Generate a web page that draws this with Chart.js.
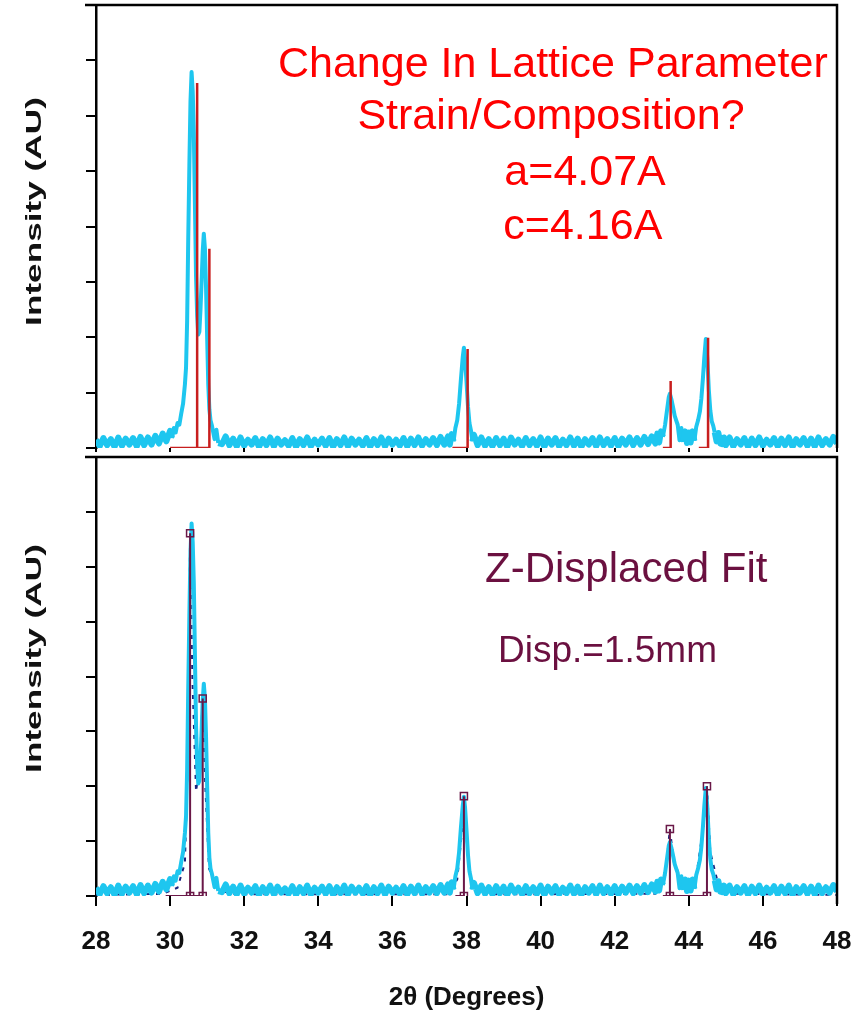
<!DOCTYPE html>
<html>
<head>
<meta charset="utf-8">
<title>2θ scan</title>
<script src="https://cdn.jsdelivr.net/npm/chart.js@4.4.1/dist/chart.umd.min.js"></script>
<style>
  html, body { margin: 0; padding: 0; background: #fff; }
  #wrap { position: relative; width: 866px; height: 1015px; overflow: hidden; }
  #wrap canvas { position: absolute; left: 0; }
  #upper { top: 0; }
  #lower { top: 450px; }
</style>
</head>
<body>
<div id="wrap">
  <canvas id="upper" width="866" height="460"></canvas>
  <canvas id="lower" width="866" height="565"></canvas>
</div>
<script>
// measured scan, intensity in arbitrary units (one y tick = 1)
const twoTheta = [
  28.0, 28.1, 28.2, 28.3, 28.4, 28.5, 28.6, 28.7, 28.8, 28.9, 29.0, 29.1, 29.2, 29.3, 29.4,
  29.5, 29.6, 29.7, 29.8, 29.9, 30.0, 30.05, 30.1, 30.15, 30.2, 30.25, 30.3, 30.35, 30.4, 30.43,
  30.46, 30.49, 30.52, 30.55, 30.58, 30.61, 30.64, 30.67, 30.7, 30.73, 30.76, 30.79, 30.82, 30.85,
  30.88, 30.91, 30.94, 30.97, 31.0, 31.03, 31.06, 31.09, 31.13, 31.2, 31.25, 31.3, 31.4, 31.5,
  31.6, 31.7, 31.8, 31.9, 32.0, 32.1, 32.2, 32.3, 32.4, 32.5, 32.6, 32.7, 32.8, 32.9, 33.0, 33.1,
  33.2, 33.3, 33.4, 33.5, 33.6, 33.7, 33.8, 33.9, 34.0, 34.1, 34.2, 34.3, 34.4, 34.5, 34.6, 34.7,
  34.8, 34.9, 35.0, 35.1, 35.2, 35.3, 35.4, 35.5, 35.6, 35.7, 35.8, 35.9, 36.0, 36.1, 36.2, 36.3,
  36.4, 36.5, 36.6, 36.7, 36.8, 36.9, 37.0, 37.1, 37.2, 37.3, 37.4, 37.5,
  37.55, 37.6, 37.65, 37.7, 37.75, 37.8, 37.85, 37.9, 37.93, 37.96, 38.0, 38.04, 38.08, 38.12, 38.16, 38.2, 38.3,
  38.4, 38.5, 38.6, 38.7, 38.8, 38.9, 39.0, 39.1, 39.2, 39.3, 39.4, 39.5, 39.6, 39.7, 39.8, 39.9,
  40.0, 40.1, 40.2, 40.3, 40.4, 40.5, 40.6, 40.7, 40.8, 40.9, 41.0, 41.1, 41.2, 41.3, 41.4, 41.5,
  41.6, 41.7, 41.8, 41.9, 42.0, 42.1, 42.2, 42.3, 42.4, 42.5, 42.6, 42.7, 42.8, 42.9, 43.0, 43.1,
  43.15, 43.2, 43.25, 43.3, 43.36, 43.42, 43.46, 43.49, 43.53, 43.58, 43.62, 43.66, 43.7, 43.75,
  43.8, 43.85, 43.9, 43.95, 44.0, 44.05, 44.1, 44.15, 44.2, 44.25, 44.3, 44.34, 44.38, 44.42, 44.46,
  44.5, 44.54, 44.58, 44.62, 44.66, 44.7, 44.75, 44.8, 44.85, 44.9, 44.95,
  45.0, 45.1, 45.2, 45.3, 45.4, 45.5, 45.6, 45.7, 45.8, 45.9, 46.0, 46.1, 46.2, 46.3, 46.4, 46.5,
  46.6, 46.7, 46.8, 46.9, 47.0, 47.1, 47.2, 47.3, 47.4, 47.5, 47.6, 47.7, 47.8, 47.9, 48.0
];
const intensity = [
  // 28.0 - 29.4
  0.15, 0.03, 0.18, 0.05, 0.16, 0.02, 0.19, 0.04, 0.17, 0.06, 0.18, 0.03, 0.20, 0.05, 0.19,
  // 29.5 - 31.5, split (002)/(200) peak
  0.06, 0.22, 0.08, 0.26, 0.12, 0.31, 0.18, 0.36, 0.28, 0.45, 0.42, 0.62, 0.80, 1.15, 1.45,
  2.30, 3.80, 5.10, 6.25, 6.79, 6.45, 5.70, 4.40, 3.10, 2.40, 2.05, 2.10, 2.50, 3.00,
  3.55, 3.87, 3.60, 2.90, 2.00, 1.15, 0.70, 0.50, 0.40, 0.16, 0.33, 0.09, 0.07, 0.21,
  // 31.6 - 37.5
  0.05, 0.17, 0.03, 0.19, 0.04, 0.15, 0.06, 0.18, 0.02, 0.16, 0.05, 0.19, 0.03, 0.17, 0.06, 0.14,
  0.04, 0.18, 0.02, 0.16, 0.05, 0.19, 0.03, 0.15, 0.06, 0.17, 0.04, 0.18, 0.02, 0.16, 0.05, 0.19,
  0.03, 0.17, 0.06, 0.15, 0.04, 0.18, 0.02, 0.16, 0.05, 0.19, 0.03, 0.17, 0.06, 0.15, 0.04, 0.18,
  0.03, 0.17, 0.05, 0.19, 0.04, 0.16, 0.06, 0.18, 0.05, 0.20, 0.06, 0.21,
  // 37.55 - 38.3
  0.06, 0.25, 0.12, 0.36, 0.50, 0.80, 1.25, 1.65, 1.81, 1.62, 1.20, 0.75, 0.45, 0.32, 0.12, 0.24, 0.05,
  // 38.4 - 43.1
  0.19, 0.04, 0.16, 0.03, 0.18, 0.05, 0.17, 0.02, 0.19, 0.06, 0.15, 0.03, 0.18, 0.05, 0.16, 0.04,
  0.19, 0.02, 0.17, 0.06, 0.18, 0.03, 0.15, 0.05, 0.19, 0.04, 0.17, 0.02, 0.16, 0.06, 0.18, 0.03,
  0.19, 0.05, 0.16, 0.04, 0.18, 0.03, 0.17, 0.06, 0.19, 0.05, 0.18, 0.06, 0.20, 0.07, 0.21, 0.08,
  // 43.15 - 44.95, (102)/(201) pair
  0.26, 0.10, 0.30, 0.20, 0.42, 0.72, 0.92, 0.98, 0.88, 0.72, 0.58, 0.50, 0.42, 0.14,
  0.36, 0.11, 0.30, 0.09, 0.28, 0.10, 0.30, 0.13, 0.38, 0.50, 0.66, 0.90, 1.25, 1.65, 1.97,
  1.62, 1.05, 0.68, 0.48, 0.40, 0.28, 0.12, 0.27, 0.08, 0.07, 0.19,
  // 45.0 - 48.0
  0.05, 0.19, 0.03, 0.16, 0.06, 0.18, 0.02, 0.17, 0.05, 0.19, 0.04, 0.15, 0.06, 0.18, 0.03, 0.17,
  0.05, 0.19, 0.02, 0.16, 0.06, 0.18, 0.04, 0.17, 0.03, 0.19, 0.05, 0.16, 0.06, 0.20, 0.08
];

// reference stick pattern (a=4.07A, c=4.16A)
const refPeaks = [30.73, 31.06, 38.03, 43.51, 44.52];
const refHeights = [6.59, 3.60, 1.79, 1.21, 1.99];
const refStart = [30.00, 30.73, 37.62, 43.30, 44.27];

// z-displaced fit peak positions
const fitPeaks = [30.54, 30.88, 37.93, 43.49, 44.49];
const fitHeights = [6.61, 3.60, 1.82, 1.22, 2.00];
const fitStart = [29.88, 30.54, 37.70, 43.30, 43.49];

// fitted profile
const fitAngle = [28.0, 29.8, 30.2, 30.4, 30.48, 30.54, 30.6, 30.7, 30.8, 30.88, 30.95, 31.05, 31.3, 31.8,
  37.5, 37.75, 37.88, 37.93, 37.98, 38.1, 38.4, 43.1, 43.35, 43.49, 43.6, 43.85, 44.2, 44.4, 44.49,
  44.58, 44.8, 45.2, 48.0];
const fitIntensity = [0.02, 0.04, 0.15, 0.60, 2.50, 6.61, 4.00, 1.90, 2.40, 3.60, 2.00, 0.50, 0.10, 0.03,
  0.03, 0.30, 1.20, 1.82, 1.20, 0.30, 0.03, 0.04, 0.30, 1.22, 0.60, 0.25, 0.35, 1.30, 2.00,
  0.80, 0.20, 0.04, 0.02];

const xTicks = [28, 30, 32, 34, 36, 38, 40, 42, 44, 46, 48];

const CYAN = '#1ec6ef';
const STICK_RED = '#c81e1e';
const FIT_PURPLE = '#6a1848';

Chart.defaults.font.family = '"Liberation Sans", Arial, sans-serif';
Chart.defaults.color = '#111';

function toPoints(xs, ys) {
  return xs.map((x, i) => ({x: x, y: ys[i]}));
}

// base run then up/down stick, broken by a null between sticks
function stickPath(peaks, heights, start) {
  const pts = [];
  peaks.forEach((p, i) => {
    pts.push({x: start[i], y: 0}, {x: p, y: 0}, {x: p, y: heights[i]}, {x: p, y: 0});
    pts.push({x: p, y: null});
  });
  return pts;
}

function stickMarks(peaks, heights) {
  const pts = [];
  peaks.forEach((p, i) => {
    pts.push({x: p, y: heights[i]}, {x: p, y: 0});
  });
  return pts;
}

const framePlugin = {
  id: 'frame',
  afterDraw(chart, args, opts) {
    const {ctx, chartArea: a} = chart;
    ctx.save();
    ctx.strokeStyle = '#000';
    ctx.lineWidth = 2.5;
    ctx.beginPath();
    ctx.moveTo(a.left - 11, a.top);
    ctx.lineTo(a.right, a.top);
    ctx.lineTo(a.right, a.bottom + opts.tail);
    ctx.stroke();
    ctx.restore();
  }
};

const sideTitlePlugin = {
  id: 'sideTitle',
  afterDraw(chart, args, opts) {
    const {ctx, chartArea: a} = chart;
    ctx.save();
    ctx.translate(opts.x, (a.top + a.bottom) / 2 + opts.shift);
    ctx.rotate(-Math.PI / 2);
    ctx.scale(opts.stretch, 1);
    ctx.font = 'bold 22px "Liberation Sans", Arial, sans-serif';
    ctx.fillStyle = '#111';
    ctx.textAlign = 'center';
    ctx.textBaseline = 'middle';
    ctx.fillText(opts.text, 0, 0);
    ctx.restore();
  }
};

const notesPlugin = {
  id: 'notes',
  afterDatasetsDraw(chart, args, opts) {
    const {ctx, scales} = chart;
    ctx.save();
    ctx.textBaseline = 'alphabetic';
    opts.items.forEach(n => {
      ctx.font = n.font;
      ctx.fillStyle = n.color;
      ctx.textAlign = n.align;
      ctx.fillText(n.text, scales.x.getPixelForValue(n.x), scales.y.getPixelForValue(n.y));
    });
    ctx.restore();
  }
};

function yScale() {
  return {
    min: 0,
    max: 8,
    ticks: {display: false, stepSize: 1},
    grid: {drawOnChartArea: false, drawTicks: true, tickLength: 10, color: '#000', lineWidth: 2},
    border: {display: true, color: '#000', width: 2.5},
    afterFit: (s) => { s.width = 10; }
  };
}

// background noise reads as a thick band, peak flanks a little thinner
function scanDataset() {
  return {
    data: toPoints(twoTheta, intensity),
    showLine: true,
    borderColor: CYAN,
    backgroundColor: CYAN,
    borderWidth: 6,
    borderJoinStyle: 'round',
    segment: {
      borderWidth: (c) => (c.p0.parsed.y < 0.32 && c.p1.parsed.y < 0.32) ? 6 : 4
    },
    pointRadius: 0,
    order: 2
  };
}

// upper panel: scan against the tabulated stick pattern
new Chart(document.getElementById('upper'), {
  type: 'scatter',
  data: {
    datasets: [
      {
        data: stickPath(refPeaks, refHeights, refStart),
        showLine: true,
        spanGaps: false,
        borderColor: STICK_RED,
        borderWidth: 2.5,
        pointRadius: 0,
        order: 1
      },
      scanDataset()
    ]
  },
  options: {
    responsive: false,
    animation: false,
    layout: {padding: {left: 86, right: 29, top: 5, bottom: 0}},
    plugins: {
      legend: {display: false},
      tooltip: {enabled: false},
      frame: {tail: 0},
      sideTitle: {text: 'Intensity (AU)', x: 35, shift: -15, stretch: 1.6},
      notes: {
        items: [
          {text: 'Change In Lattice Parameter', x: 40.33, y: 6.70, align: 'center', color: '#ff0000', font: '43px "Liberation Sans", Arial, sans-serif'},
          {text: 'Strain/Composition?', x: 40.28, y: 5.76, align: 'center', color: '#ff0000', font: '43px "Liberation Sans", Arial, sans-serif'},
          {text: 'a=4.07A', x: 41.20, y: 4.75, align: 'center', color: '#ff0000', font: '43px "Liberation Sans", Arial, sans-serif'},
          {text: 'c=4.16A', x: 41.14, y: 3.77, align: 'center', color: '#ff0000', font: '43px "Liberation Sans", Arial, sans-serif'}
        ]
      }
    },
    scales: {
      x: {
        type: 'linear',
        min: 28,
        max: 48,
        afterBuildTicks: (s) => { s.ticks = xTicks.map(v => ({value: v})); },
        ticks: {display: false},
        grid: {drawOnChartArea: false, drawTicks: true, tickLength: 4, color: '#000', lineWidth: 2},
        border: {display: false},
        afterFit: (s) => { s.height = 12; }
      },
      y: yScale()
    }
  },
  plugins: [framePlugin, sideTitlePlugin, notesPlugin]
});

// lower panel: same scan with the z-displaced fit
new Chart(document.getElementById('lower'), {
  type: 'scatter',
  data: {
    datasets: [
      {
        data: stickMarks(fitPeaks, fitHeights),
        pointStyle: 'rect',
        pointRadius: 5,
        borderColor: FIT_PURPLE,
        backgroundColor: 'rgba(255,255,255,0)',
        borderWidth: 1.5,
        order: 0
      },
      {
        data: stickPath(fitPeaks, fitHeights, fitStart),
        showLine: true,
        spanGaps: false,
        borderColor: FIT_PURPLE,
        borderWidth: 2,
        pointRadius: 0,
        order: 1
      },
      scanDataset(),
      {
        data: toPoints(fitAngle, fitIntensity),
        showLine: true,
        borderColor: '#1c237e',
        borderWidth: 2,
        borderDash: [4, 6],
        pointRadius: 0,
        order: 3
      }
    ]
  },
  options: {
    responsive: false,
    animation: false,
    layout: {padding: {left: 86, right: 29, top: 7, bottom: 0}},
    plugins: {
      legend: {display: false},
      tooltip: {enabled: false},
      frame: {tail: 8},
      sideTitle: {text: 'Intensity (AU)', x: 35, shift: -18, stretch: 1.6},
      notes: {
        items: [
          {text: 'Z-Displaced Fit', x: 38.50, y: 5.72, align: 'left', color: '#6b1040', font: '42px "Liberation Sans", Arial, sans-serif'},
          {text: 'Disp.=1.5mm', x: 38.85, y: 4.26, align: 'left', color: '#6b1040', font: '37px "Liberation Sans", Arial, sans-serif'}
        ]
      }
    },
    scales: {
      x: {
        type: 'linear',
        min: 28,
        max: 48,
        afterBuildTicks: (s) => { s.ticks = xTicks.map(v => ({value: v})); },
        ticks: {padding: 20, maxRotation: 0, autoSkip: false, font: {size: 26, weight: 'bold'}, color: '#111'},
        grid: {drawOnChartArea: false, drawTicks: true, tickLength: 10, color: '#000', lineWidth: 2},
        border: {display: false},
        title: {display: true, text: '2θ (Degrees)', padding: {top: 2, bottom: 2}, font: {size: 26, weight: 'bold'}, color: '#111'},
        afterFit: (s) => {
          s.height = 119;
          // let the end labels hang past the frame instead of shrinking the plot
          s.paddingLeft = 0;
          s.paddingRight = 0;
        }
      },
      y: yScale()
    }
  },
  plugins: [framePlugin, sideTitlePlugin, notesPlugin]
});
</script>
</body>
</html>
